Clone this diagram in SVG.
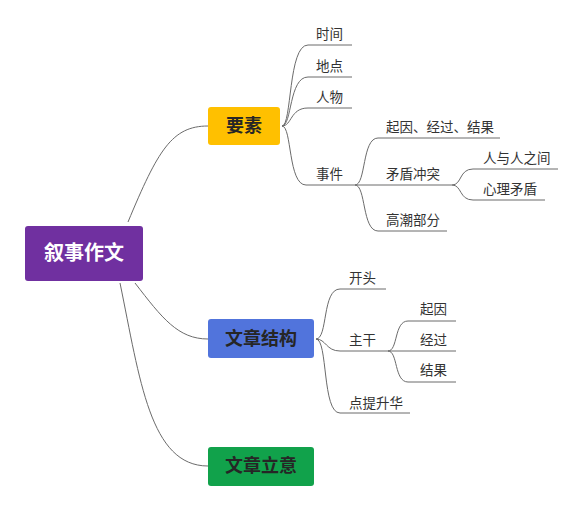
<svg xmlns="http://www.w3.org/2000/svg" width="579" height="507" viewBox="0 0 579 507">
<style>
.bg{fill:#ffffff}
.ln{fill:none;stroke:#6b6b6b;stroke-width:1}
.leaf{font-family:"Noto Sans CJK SC","Noto Sans",sans-serif;font-size:13.5px;fill:#333333}
.main{font-family:"Noto Sans CJK SC","Noto Sans",sans-serif;font-size:18px;font-weight:bold;fill:#262626;text-anchor:middle}
.root{font-family:"Noto Sans CJK SC","Noto Sans",sans-serif;font-size:20px;font-weight:bold;fill:#ffffff;text-anchor:middle}
</style>
<rect class="bg" x="0" y="0" width="579" height="507"/>
<g id="connectors">
<path class="ln" d="M128,222 C158,150 172,126 208,126"/>
<path class="ln" d="M135,283 C162,318 178,339 208,339"/>
<path class="ln" d="M120,283 C140,380 150,466 208,466"/>
<path class="ln" d="M282,126 C292,126 288,45 308,45 H352"/>
<path class="ln" d="M282,126 C292,126 289,77 308,77 H352"/>
<path class="ln" d="M282,126 C292,126 290,108 308,108 H352"/>
<path class="ln" d="M282,126 C292,126 288,185 306,185 H452"/>
<path class="ln" d="M355,185 C366,185 362,138 378,138 H500"/>
<path class="ln" d="M355,185 C366,185 362,231 378,231 H447"/>
<path class="ln" d="M452,185 C462,185 459,169 473,169 H558"/>
<path class="ln" d="M452,185 C462,185 459,200 473,200 H545"/>
<path class="ln" d="M316,339 C328,339 322,289 340,289 H386"/>
<path class="ln" d="M316,339 C326,339 326,351 340,351 H456"/>
<path class="ln" d="M316,339 C328,339 322,413 340,413 H410"/>
<path class="ln" d="M388,351 C398,351 394,321 408,321 H456"/>
<path class="ln" d="M388,351 C398,351 394,382 408,382 H456"/>
</g>
<g id="root">
<rect x="25" y="226" width="118" height="55" rx="3" fill="#7030A0"/>
<text class="root" x="84" y="260">叙事作文</text>
</g>
<g id="yaosu">
<rect x="208" y="107" width="72" height="38" rx="3" fill="#FFC000"/>
<text class="main" x="244" y="132">要素</text>
</g>
<g id="jiegou">
<rect x="208" y="319" width="106" height="39" rx="3" fill="#5174DC"/>
<text class="main" x="261" y="345">文章结构</text>
</g>
<g id="liyi">
<rect x="208" y="447" width="106" height="39" rx="3" fill="#11A24B"/>
<text class="main" x="261" y="472">文章立意</text>
</g>
<g id="shijian"><text class="leaf" x="316" y="39">时间</text></g>
<g id="didian"><text class="leaf" x="316" y="71">地点</text></g>
<g id="renwu"><text class="leaf" x="316" y="102">人物</text></g>
<g id="shijian2"><text class="leaf" x="316" y="179">事件</text></g>
<g id="qiyin1"><text class="leaf" x="386" y="132">起因、经过、结果</text></g>
<g id="maodun"><text class="leaf" x="386" y="179">矛盾冲突</text></g>
<g id="gaochao"><text class="leaf" x="386" y="225">高潮部分</text></g>
<g id="renyuren"><text class="leaf" x="483" y="163">人与人之间</text></g>
<g id="xinli"><text class="leaf" x="483" y="194">心理矛盾</text></g>
<g id="kaitou"><text class="leaf" x="349" y="283">开头</text></g>
<g id="zhugan"><text class="leaf" x="349" y="345">主干</text></g>
<g id="qiyin2"><text class="leaf" x="420" y="314">起因</text></g>
<g id="jingguo"><text class="leaf" x="420" y="345">经过</text></g>
<g id="jieguo"><text class="leaf" x="420" y="375">结果</text></g>
<g id="dianti"><text class="leaf" x="349" y="408">点提升华</text></g>
</svg>
